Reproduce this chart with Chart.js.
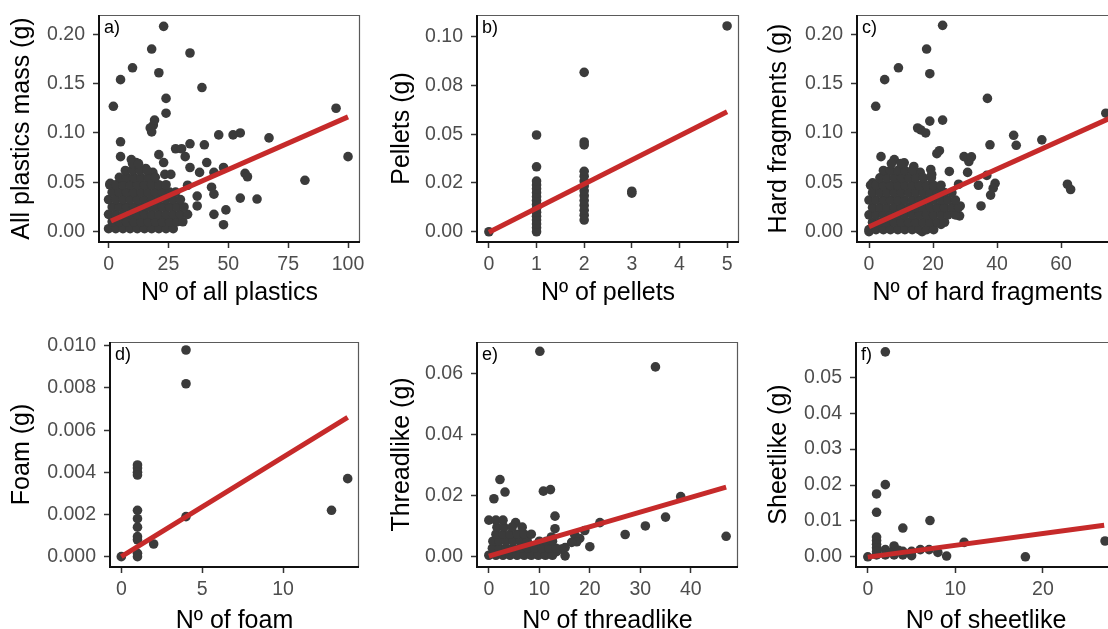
<!DOCTYPE html>
<html>
<head>
<meta charset="utf-8">
<script src="https://cdn.jsdelivr.net/npm/chart.js@4.4.1/dist/chart.umd.min.js"></script>
<style>
  html, body { margin: 0; padding: 0; background: #fff; overflow: hidden; }
  #wrap { position: relative; width: 1108px; height: 629px; overflow: hidden; }
  canvas { position: absolute; }
</style>
</head>
<body>
<div id="wrap">
  <canvas id="pa"></canvas>
  <canvas id="pb"></canvas>
  <canvas id="pc"></canvas>
  <canvas id="pd"></canvas>
  <canvas id="pe"></canvas>
  <canvas id="pf"></canvas>
</div>
<script>
// ---- a) all plastics ----
var aTicksX = [0, 25, 50, 75, 100];
var aTicksY = [0, 0.05, 0.10, 0.15, 0.20];
var aLabelsY = ["0.00", "0.05", "0.10", "0.15", "0.20"];
var aPoints = [
  [23,0.208],[18,0.185],[34,0.181],[10,0.166],[21,0.161],[5,0.154],[39,0.146],[2,0.127],
  [24,0.135],[24,0.120],[95,0.125],[100,0.076],[82,0.052],[67,0.095],[55,0.100],[52,0.098],
  [46,0.098],[40,0.088],[34,0.089],[57,0.059],[58,0.0556],[55,0.034],[62,0.033],[49,0.022],
  [44,0.0175],[48,0.007],[41,0.070],[48,0.065],[44,0.060],[43,0.045],[44,0.038],[37,0.036],
  [37,0.026],[38,0.060],[32,0.076],[28,0.084],[30.5,0.084],[21,0.078],[23,0.070],[18.7,0.108],
  [19.2,0.113],[17.4,0.105],[18,0.101],[5,0.091],[5,0.076],[9.5,0.073],[11.5,0.070],[15.5,0.064],
  [18.5,0.060],[23.5,0.058],[26,0.058],[0.7,0.049],[34,0.065],[33,0.047],
  [0,0.003],[3,0.003],[6,0.003],[9,0.003],[12,0.003],[15,0.003],[18,0.003],[21,0.003],[24,0.003],[27,0.003],
  [1.5,0.010],[4.5,0.010],[7.5,0.010],[10.5,0.010],[13.5,0.010],[16.5,0.010],[19.5,0.010],[22.5,0.010],[25.5,0.010],[28.5,0.010],[31,0.010],
  [0,0.0175],[3,0.0175],[6,0.0175],[9,0.0175],[12,0.0175],[15,0.0175],[18,0.0175],[21,0.0175],[24,0.0175],[27,0.0175],[30,0.0175],[33,0.0175],
  [1.5,0.025],[4.5,0.025],[7.5,0.025],[10.5,0.025],[13.5,0.025],[16.5,0.025],[19.5,0.025],[22.5,0.025],[25.5,0.025],[28.5,0.025],[31.5,0.025],
  [0,0.0325],[3,0.0325],[6,0.0325],[9,0.0325],[12,0.0325],[15,0.0325],[18,0.0325],[21,0.0325],[24,0.0325],[27,0.0325],[30,0.0325],
  [1.5,0.040],[4.5,0.040],[7.5,0.040],[10.5,0.040],[13.5,0.040],[16.5,0.040],[19.5,0.040],[22.5,0.040],[25.5,0.040],[28,0.040],
  [0.5,0.0475],[3,0.0475],[6,0.0475],[9,0.0475],[12,0.0475],[15,0.0475],[18,0.0475],[21,0.0475],[24,0.0475],
  [4.5,0.055],[7.5,0.055],[10.5,0.055],[13.5,0.055],[16.5,0.055],[19.5,0.055],
  [7,0.062],[10,0.062],[13,0.062],[16,0.062],[10,0.069],[12.5,0.069]
];
var aFit = [[1, 0.0107], [100, 0.1163]];

// ---- b) pellets ----
var bTicksX = [0, 1, 2, 3, 4, 5];
var bTicksY = [0, 0.025, 0.05, 0.075, 0.10];
var bLabelsY = ["0.00", "0.02", "0.05", "0.08", "0.10"];
var bPoints = [
  [5,0.1055],[2,0.0817],[1,0.0496],[2,0.046],[2,0.0445],[1,0.0333],[0,0],[3,0.0208],[3,0.0198],
  [1,0],[1,0.002],[1,0.004],[1,0.006],[1,0.008],[1,0.010],[1,0.012],[1,0.014],[1,0.016],
  [1,0.018],[1,0.020],[1,0.022],[1,0.024],[1,0.026],
  [2,0.006],[2,0.0085],[2,0.011],[2,0.0135],[2,0.016],[2,0.0185],[2,0.021],[2,0.0235],
  [2,0.026],[2,0.0285],[2,0.031]
];
var bFit = [[0, -0.0002], [5, 0.0615]];

// ---- c) hard fragments ----
var cTicksX = [0, 20, 40, 60];
var cTicksY = [0, 0.05, 0.10, 0.15, 0.20];
var cLabelsY = ["0.00", "0.05", "0.10", "0.15", "0.20"];
var cPoints = [
  [23,0.209],[18,0.185],[9.2,0.166],[19,0.160],[4.9,0.154],[2.1,0.127],[37,0.135],[23,0.113],
  [19,0.112],[15.2,0.105],[16.2,0.103],[17.7,0.100],[45.2,0.0976],[54,0.093],[46,0.0875],[37.8,0.088],
  [74,0.120],[62,0.048],[63,0.0427],[35,0.026],[34.2,0.047],[39.4,0.049],[38.8,0.044],[38,0.037],
  [36.8,0.057],[31.2,0.071],[29.7,0.076],[32,0.0757],[30.8,0.060],[22,0.082],[21.2,0.079],[25.1,0.061],
  [28,0.048],[28.5,0.026],[22.5,0.0074],[28.3,0.016],[16.6,0],[0,0],[1.15,0.0495],[3.75,0.076],
  [7.9,0.073],[11,0.0697],[14,0.066],[16,0.060],[19.3,0.063],[19.6,0.058],
  [0,0.002],[2.2,0.002],[4.5,0.002],[6.7,0.002],[9,0.002],[11.2,0.002],[13.5,0.002],[15.7,0.002],[18,0.002],[20.2,0.002],
  [1.1,0.0095],[3.4,0.0095],[5.6,0.0095],[7.9,0.0095],[10.1,0.0095],[12.4,0.0095],[14.6,0.0095],[16.9,0.0095],[19.1,0.0095],[21.4,0.0095],[23.6,0.0095],
  [0,0.017],[2.2,0.017],[4.5,0.017],[6.7,0.017],[9,0.017],[11.2,0.017],[13.5,0.017],[15.7,0.017],[18,0.017],[20.2,0.017],[22.5,0.017],[24.7,0.017],[27,0.017],
  [1.1,0.0245],[3.4,0.0245],[5.6,0.0245],[7.9,0.0245],[10.1,0.0245],[12.4,0.0245],[14.6,0.0245],[16.9,0.0245],[19.1,0.0245],[21.4,0.0245],[23.6,0.0245],[25.9,0.0245],[28,0.0245],
  [0,0.032],[2.2,0.032],[4.5,0.032],[6.7,0.032],[9,0.032],[11.2,0.032],[13.5,0.032],[15.7,0.032],[18,0.032],[20.2,0.032],[22.5,0.032],[24.7,0.032],[27,0.032],
  [1.1,0.0395],[3.4,0.0395],[5.6,0.0395],[7.9,0.0395],[10.1,0.0395],[12.4,0.0395],[14.6,0.0395],[16.9,0.0395],[19.1,0.0395],[21.4,0.0395],[23.6,0.0395],[25.9,0.0395],
  [0.5,0.047],[2.2,0.047],[4.5,0.047],[6.7,0.047],[9,0.047],[11.2,0.047],[13.5,0.047],[15.7,0.047],[18,0.047],[20.2,0.047],[22.5,0.047],
  [3.4,0.0545],[5.6,0.0545],[7.9,0.0545],[10.1,0.0545],[12.4,0.0545],[14.6,0.0545],[17,0.0545],[19.5,0.0545],
  [4.5,0.062],[6.7,0.062],[9,0.062],[11.2,0.062],[13.5,0.062],[7,0.069],[10,0.069]
];
var cFit = [[0, 0.005], [76, 0.116]];

// ---- d) foam ----
var dTicksX = [0, 5, 10];
var dTicksY = [0, 0.002, 0.004, 0.006, 0.008, 0.010];
var dLabelsY = ["0.000", "0.002", "0.004", "0.006", "0.008", "0.010"];
var dPoints = [
  [4,0.0098],[4,0.0082],[1,0.00435],[1,0.0042],[1,0.0040],[1,0.00387],[1,0.0022],[1,0.0018],
  [1,0.0014],[1,0.00095],[1,0.0008],[1,0.00016],[1,0],[0,0],[2,0.0006],[4,0.0019],
  [13,0.0022],[14,0.0037]
];
var dFit = [[0, 0], [14, 0.0066]];

// ---- e) threadlike ----
var eTicksX = [0, 10, 20, 30, 40];
var eTicksY = [0, 0.02, 0.04, 0.06];
var eLabelsY = ["0.00", "0.02", "0.04", "0.06"];
var ePoints = [
  [10.1,0.0673],[33,0.0622],[2.2,0.0253],[3.2,0.0212],[1,0.019],[10.8,0.0215],[12.2,0.022],[13.1,0.0133],
  [13.1,0.0092],[15.1,0.003],[15.1,0.0003],[20,0.0033],[22,0.0112],[27,0.0073],[31,0.0101],[35,0.013],
  [38,0.0197],[47,0.0067],[17,0.0072],[18,0.006],[19,0.0086],[17.4,0.0049],[16.4,0.0047],[14.4,0.0025],
  [13.4,0.0017],[12,0.0045],[12.4,0.0065],[5.3,0.0112],
  [0,0.0005],[1.4,0.0005],[2.8,0.0005],[4.2,0.0005],[5.6,0.0005],[7,0.0005],[8.4,0.0005],[9.8,0.0005],[11.2,0.0005],[12.6,0.0005],
  [0.7,0.0028],[2.1,0.0028],[3.5,0.0028],[4.9,0.0028],[6.3,0.0028],[7.7,0.0028],[9.1,0.0028],[10.5,0.0028],[11.9,0.0028],[13.3,0.0028],
  [0.8,0.0051],[2,0.0051],[3.4,0.0051],[4.8,0.0051],[6.2,0.0051],[7.6,0.0051],[10,0.0051],[11.4,0.0051],[12.6,0.0051],
  [1.4,0.0074],[2.8,0.0074],[4.2,0.0074],[5.6,0.0074],[7,0.0074],[8.4,0.0074],
  [1.6,0.0097],[3,0.0097],[4.6,0.0097],[6.6,0.0097],
  [0,0.012],[1.4,0.012],[2.8,0.012]
];
var eFit = [[0, 0.0002], [47, 0.0228]];

// ---- f) sheetlike ----
var fTicksX = [0, 10, 20];
var fTicksY = [0, 0.01, 0.02, 0.03, 0.04, 0.05];
var fLabelsY = ["0.00", "0.01", "0.02", "0.03", "0.04", "0.05"];
var fPoints = [
  [2,0.0571],[2,0.0201],[1,0.0175],[1,0.0124],[7.1,0.0101],[4,0.008],[11,0.004],[9,0.0002],
  [18,0],[27.1,0.0044],[0,0],
  [1,0.0055],[1,0.0045],[1,0.0035],[1,0.0025],[1,0.0015],[1,0.0005],
  [2,0.002],[2,0.0005],[3,0.003],[3,0.0005],[4,0.0015],[4,0.0005],[5,0.0015],[5,0.0003],
  [6,0.002],[7,0.002],[8,0.0012],[3.5,0.0018],[2.5,0.0012]
];
var fFit = [[0, -0.0001], [27, 0.0088]];

Chart.defaults.font.family = "'Liberation Sans', Arial, Helvetica, sans-serif";

function toXY(list) {
  return list.map(function (p) { return { x: p[0], y: p[1] }; });
}

var framePlugin = {
  id: 'frame',
  afterDraw: function (chart, args, opts) {
    var a = chart.chartArea, ctx = chart.ctx;
    ctx.save();
    ctx.strokeStyle = '#5a5a5a';
    ctx.lineWidth = 1.2;
    ctx.beginPath();
    ctx.moveTo(a.left, a.top + 0.5);
    ctx.lineTo(a.right - 0.5, a.top + 0.5);
    ctx.lineTo(a.right - 0.5, a.bottom);
    ctx.stroke();
    ctx.strokeStyle = '#111';
    ctx.lineWidth = 2;
    ctx.beginPath();
    ctx.moveTo(a.left, a.top);
    ctx.lineTo(a.left, a.bottom);
    ctx.lineTo(a.right, a.bottom);
    ctx.stroke();
    ctx.fillStyle = '#000';
    ctx.font = "18px 'Liberation Sans', Arial";
    ctx.textBaseline = 'top';
    ctx.fillText(opts.tag, a.left + 5, a.top + 4);
    ctx.restore();
  }
};

function panel(p) {
  var cv = document.getElementById(p.id);
  var w = p.yw + (p.r - p.l) + p.pr;
  var h = p.pt + (p.b - p.t) + p.xh;
  cv.width = w; cv.height = h;
  cv.style.width = w + 'px'; cv.style.height = h + 'px';
  cv.style.left = (p.l - p.yw) + 'px';
  cv.style.top = (p.t - p.pt) + 'px';

  var tickGrid = { display: true, drawOnChartArea: false, drawTicks: true,
                   tickLength: 6, tickWidth: 1.5, tickColor: '#333' };

  new Chart(cv, {
    type: 'scatter',
    data: {
      datasets: [
        { type: 'line', data: toXY(p.fit), borderColor: '#c62a2a', borderWidth: 5,
          pointRadius: 0, fill: false, showLine: true },
        { data: toXY(p.points), backgroundColor: '#3b3b3b', borderWidth: 0, pointRadius: 4.8 }
      ]
    },
    plugins: [framePlugin],
    options: {
      responsive: false,
      animation: false,
      events: [],
      layout: { padding: { left: 0, top: p.pt, right: p.pr, bottom: 0 } },
      plugins: { legend: { display: false }, tooltip: { enabled: false }, frame: { tag: p.tag } },
      scales: {
        x: {
          type: 'linear', min: p.xr[0], max: p.xr[1],
          grid: tickGrid, border: { display: false },
          afterBuildTicks: function (s) { s.ticks = p.ticksX.map(function (v) { return { value: v }; }); },
          afterFit: function (s) { s.height = p.xh; s.paddingLeft = 0; s.paddingRight = 0; },
          ticks: { autoSkip: false, maxRotation: 0, padding: 5, color: '#4d4d4d',
                   font: { size: 19.5 }, callback: function (v) { return String(v); } },
          title: { display: true, text: p.titleX, color: '#000', font: { size: 25 },
                   padding: { top: 0, bottom: 0 } }
        },
        y: {
          type: 'linear', min: p.yr[0], max: p.yr[1],
          grid: tickGrid, border: { display: false },
          afterBuildTicks: function (s) { s.ticks = p.ticksY.map(function (v) { return { value: v }; }); },
          afterFit: function (s) { s.width = p.yw; s.paddingTop = 0; s.paddingBottom = 0; },
          ticks: { autoSkip: false, padding: 8, color: '#4d4d4d', font: { size: 19.5 },
                   callback: function (v, i) { return p.labelsY[i]; } },
          title: { display: true, text: p.titleY, color: '#000', font: { size: 25 },
                   padding: { top: 7, bottom: 0 } }
        }
      }
    }
  });
}

panel({ id: 'pa', tag: 'a)', l: 99, t: 15, r: 360, b: 242, yw: 99, pt: 15, pr: 15, xh: 66,
        xr: [-4, 105], yr: [-0.0105, 0.2195], ticksX: aTicksX, ticksY: aTicksY, labelsY: aLabelsY,
        points: aPoints, fit: aFit, titleX: 'Nº of all plastics', titleY: 'All plastics mass (g)' });
panel({ id: 'pb', tag: 'b)', l: 477, t: 15, r: 739, b: 242, yw: 97, pt: 15, pr: 12, xh: 66,
        xr: [-0.25, 5.25], yr: [-0.00525, 0.1111], ticksX: bTicksX, ticksY: bTicksY, labelsY: bLabelsY,
        points: bPoints, fit: bFit, titleX: 'Nº of pellets', titleY: 'Pellets (g)' });
panel({ id: 'pc', tag: 'c)', l: 857, t: 15, r: 1118, b: 242, yw: 100, pt: 15, pr: 5, xh: 66,
        xr: [-3.75, 77.8], yr: [-0.0105, 0.2195], ticksX: cTicksX, ticksY: cTicksY, labelsY: cLabelsY,
        points: cPoints, fit: cFit, titleX: 'Nº of hard fragments', titleY: 'Hard fragments (g)' });
panel({ id: 'pd', tag: 'd)', l: 110, t: 342, r: 359, b: 567, yw: 110, pt: 12, pr: 15, xh: 69,
        xr: [-0.7, 14.7], yr: [-0.00049, 0.01018], ticksX: dTicksX, ticksY: dTicksY, labelsY: dLabelsY,
        points: dPoints, fit: dFit, titleX: 'Nº of foam', titleY: 'Foam (g)' });
panel({ id: 'pe', tag: 'e)', l: 477, t: 342, r: 738, b: 567, yw: 97, pt: 12, pr: 12, xh: 69,
        xr: [-2.35, 49.35], yr: [-0.00335, 0.07035], ticksX: eTicksX, ticksY: eTicksY, labelsY: eLabelsY,
        points: ePoints, fit: eFit, titleX: 'Nº of threadlike', titleY: 'Threadlike (g)' });
panel({ id: 'pf', tag: 'f)', l: 856, t: 342, r: 1116, b: 567, yw: 99, pt: 12, pr: 5, xh: 69,
        xr: [-1.35, 28.35], yr: [-0.00285, 0.05985], ticksX: fTicksX, ticksY: fTicksY, labelsY: fLabelsY,
        points: fPoints, fit: fFit, titleX: 'Nº of sheetlike', titleY: 'Sheetlike (g)' });
</script>
</body>
</html>
